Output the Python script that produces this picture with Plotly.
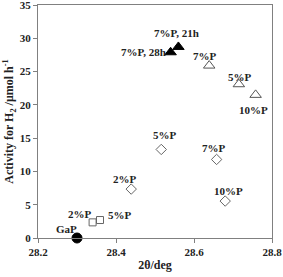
import plotly.graph_objects as go

# Data (2θ in deg, activity in µmol/h)
gap_x = [28.30]
gap_y = [0.0]
gap_labels = ["GaP"]

sq_x = [28.34, 28.359]
sq_y = [2.35, 2.7]
sq_labels = ["2%P", "5%P"]

dia_x = [28.439, 28.516, 28.658, 28.68]
dia_y = [7.35, 13.3, 11.8, 5.55]
dia_labels = ["2%P", "5%P", "7%P", "10%P"]

otri_x = [28.639, 28.715, 28.758]
otri_y = [25.9, 23.1, 21.5]
otri_labels = ["7%P", "5%P", "10%P"]

ftri_x = [28.54, 28.56]
ftri_y = [27.9, 28.7]
ftri_labels = ["7%P, 28h", "7%P, 21h"]

FONT = "Liberation Serif"
fig = go.Figure()

def add(xs, ys, symbol, color, size, line_color="#555555"):
    fig.add_trace(go.Scatter(
        x=xs, y=ys, mode="markers",
        marker=dict(symbol=symbol, size=size, color=color,
                    line=dict(color=line_color, width=1)),
        showlegend=False, cliponaxis=False))

add(gap_x, gap_y, "circle", "black", 10, "black")
add(sq_x, sq_y, "square-open", "#666666", 7, "#666666")
add(dia_x, dia_y, "diamond-open", "#666666", 8, "#666666")
add(otri_x, otri_y, "triangle-up-open", "#555555", 10, "#555555")
add(ftri_x, ftri_y, "triangle-up", "black", 10, "black")

# label offsets (pixels) relative to their points
offsets = {
    "gap": [(-11, 9)],
    "sq": [(-13, 8), (20, 5)],
    "dia": [(-6, 10), (4, 14), (-3, 11), (3, 10)],
    "otri": [(-4, 10), (1, 7), (-2, -15)],
    "ftri": [(-27, 0), (-2, 14)],
}
groups = [
    ("gap", gap_x, gap_y, gap_labels),
    ("sq", sq_x, sq_y, sq_labels),
    ("dia", dia_x, dia_y, dia_labels),
    ("otri", otri_x, otri_y, otri_labels),
    ("ftri", ftri_x, ftri_y, ftri_labels),
]
for key, xs, ys, labs in groups:
    for (x, y, t), (dx, dy) in zip(zip(xs, ys, labs), offsets[key]):
        fig.add_annotation(x=x, y=y, text="<b>%s</b>" % t, showarrow=False,
                           xshift=dx, yshift=dy,
                           font=dict(family=FONT, size=11, color="#222222"))

axis_common = dict(
    showline=True, linecolor="#808080", linewidth=1, mirror=True,
    ticks="outside", tickcolor="#808080", ticklen=4,
    showgrid=False, zeroline=False, ticklabeloverflow="allow",
    tickfont=dict(family=FONT, size=11, color="#222222"),
)

fig.update_xaxes(range=[28.2, 28.8],
                 tickvals=[28.2, 28.4, 28.6, 28.8],
                 ticktext=["<b>28.2</b>", "<b>28.4</b>", "<b>28.6</b>", "<b>28.8</b>"],
                 title=dict(text="<b>2θ/deg</b>", font=dict(family=FONT, size=12, color="#222222"),
                            standoff=3),
                 **axis_common)
yt = [0, 5, 10, 15, 20, 25, 30, 35]
fig.update_yaxes(range=[0, 35], tickvals=yt, ticktext=["<b>%d</b>" % v for v in yt],
                 title=dict(text="<b>Activity for H<sub>2</sub> /μmol h<sup>-1</sup></b>",
                            font=dict(family=FONT, size=12, color="#222222"), standoff=3),
                 **axis_common)

fig.update_layout(width=283, height=277,
                  margin=dict(l=38, r=11, t=5, b=39, autoexpand=False),
                  plot_bgcolor="white", paper_bgcolor="white")

fig.write_html("out.html", config={"displayModeBar": False},
               post_script="document.body.style.margin='0';document.body.style.overflow='hidden';")
